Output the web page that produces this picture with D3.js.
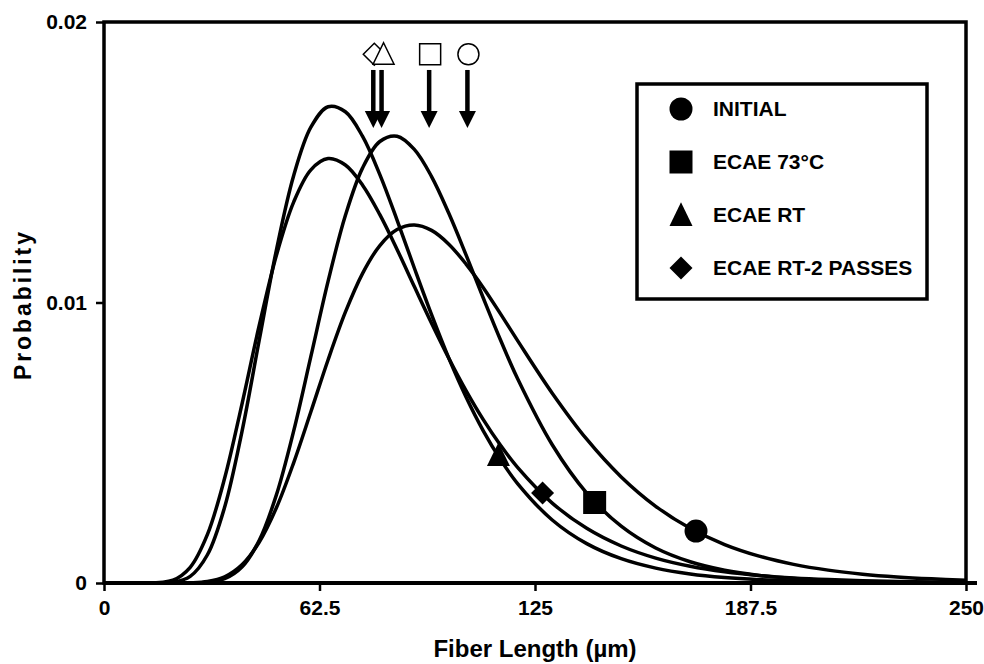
<!DOCTYPE html>
<html>
<head>
<meta charset="utf-8">
<script src="https://cdn.jsdelivr.net/npm/d3@7"></script>
<style>
  body { margin: 0; background: #fff; }
  text { font-family: "Liberation Sans", Arial, sans-serif; font-weight: bold; fill: #000; }
</style>
</head>
<body>
<div class="chart"></div>
<script>
// values (fiber length in µm, probability)
const lengths = [0, 10, 20, 25, 30, 35, 40, 45, 50, 55, 60, 65, 70, 75, 80, 85, 90, 95, 100, 105, 110, 115, 120, 130, 140, 150, 160, 170, 180, 190, 200, 210, 220, 230, 240, 250]
const initial = [0, 0, 0, 0.000007, 0.000053, 0.000222, 0.000648, 0.001452, 0.002681, 0.004285, 0.006105, 0.00796, 0.009654, 0.01104, 0.01203, 0.0126, 0.01276, 0.01257, 0.01208, 0.01137, 0.01053, 0.009596, 0.008633, 0.006768, 0.005126, 0.003782, 0.002735, 0.001949, 0.001372, 0.000959, 0.000665, 0.000459, 0.000316, 0.000217, 0.000149, 0.000102]
const ecae73 = [0, 0, 0, 0, 0.000026, 0.000153, 0.00057, 0.001514, 0.003141, 0.005415, 0.008079, 0.01076, 0.0131, 0.0148, 0.01574, 0.01593, 0.01546, 0.01449, 0.01318, 0.0117, 0.01016, 0.008663, 0.007271, 0.004928, 0.003206, 0.002024, 0.001247, 0.000757, 0.000453, 0.000269, 0.000159, 0.000093, 0.000055, 0.000032, 0.000019, 0.000011]
const ecaeRT = [0, 0, 0.000027, 0.000237, 0.001007, 0.002711, 0.00539, 0.008645, 0.01187, 0.01452, 0.01625, 0.01698, 0.0168, 0.01592, 0.01456, 0.01294, 0.01123, 0.009567, 0.008018, 0.006631, 0.005425, 0.004398, 0.003537, 0.002247, 0.001403, 0.000866, 0.00053, 0.000323, 0.000197, 0.00012, 0.000073, 0.000045, 0.000027, 0.000017, 0.00001, 0.000006]
const ecaeRT2 = [0, 0, 0.000102, 0.000559, 0.001731, 0.003742, 0.006372, 0.009171, 0.01168, 0.01358, 0.01473, 0.01513, 0.0149, 0.01418, 0.01313, 0.01189, 0.01057, 0.009261, 0.008012, 0.00686, 0.005823, 0.004909, 0.004113, 0.002849, 0.001948, 0.001319, 0.000888, 0.000597, 0.0004, 0.000269, 0.00018, 0.000121, 0.000082, 0.000056, 0.000038, 0.000026]

const seriesNames = ['INITIAL', 'ECAE 73°C', 'ECAE RT', 'ECAE RT-2 PASSES']
const seriesShapes = ['circle', 'square', 'triangle', 'diamond']
// one marker on each curve
const markerX = [171.7, 142.3, 114.4, 127.2]
const markerY = [0.00185, 0.00287, 0.00456, 0.00321]
// mean lengths, marked by arrows at the top
const meanX = [105.4, 94.3, 80.5, 78.1]

const xTicks = [0, 62.5, 125, 187.5, 250]
const yTicks = [0, 0.01, 0.02]

const margin = ({top: 22, right: 18, bottom: 81, left: 104})
const width = 984 - margin.left - margin.right
const height = 664 - margin.top - margin.bottom

const svg = d3.select('.chart').append('svg')
    .attr('width', 984)
    .attr('height', 664)
const g = svg.append('g')
    .attr('transform', `translate(${margin.left},${margin.top})`)

const x = d3.scaleLinear().domain([0, 250]).range([0, width])
const y = d3.scaleLinear().domain([0, 0.02]).range([height, 0])

// shape paths, r = half size
function shapePath(shape, r) {
    if (shape === 'circle') return d3.symbol(d3.symbolCircle, Math.PI * r * r)()
    if (shape === 'square') return `M${-r},${-r}H${r}V${r}H${-r}Z`
    if (shape === 'triangle') return `M0,${-r * 1.1}L${r},${r * 0.95}L${-r},${r * 0.95}Z`
    return `M0,${-r}L${r},0L0,${r}L${-r},0Z`
}

// frame
g.append('rect')
    .attr('width', width).attr('height', height)
    .attr('fill', 'none').attr('stroke', '#000').attr('stroke-width', 3.5)

// axes
const xAxis = d3.axisBottom(x).tickValues(xTicks).tickSize(8).tickPadding(9)
    .tickFormat(d => d)
const yAxis = d3.axisLeft(y).tickValues(yTicks).tickSize(8).tickPadding(9)
    .tickFormat(d => d)

g.append('g').attr('class', 'x-axis')
    .attr('transform', `translate(0,${height})`)
    .call(xAxis)
g.append('g').attr('class', 'y-axis')
    .call(yAxis)

g.selectAll('.domain').remove()
g.selectAll('.tick line').attr('stroke', '#000').attr('stroke-width', 2.5)
g.selectAll('.tick text').style('font-size', '21px')

// x axis line runs a little past the frame
g.append('line')
    .attr('x1', 0).attr('x2', width + 11)
    .attr('y1', height).attr('y2', height)
    .attr('stroke', '#000').attr('stroke-width', 4)

// curves
const allSeries = [initial, ecae73, ecaeRT, ecaeRT2]
const line = d3.line()
    .x((d, i) => x(lengths[i]))
    .y(d => y(d))
    .curve(d3.curveCatmullRom.alpha(0.5))

g.selectAll('.curve').data(allSeries).join('path')
    .attr('class', 'curve')
    .attr('d', line)
    .attr('fill', 'none')
    .attr('stroke', '#000')
    .attr('stroke-width', 3.5)

// markers on curves
g.selectAll('.marker').data(seriesShapes).join('path')
    .attr('class', 'marker')
    .attr('transform', (d, i) => `translate(${x(markerX[i])},${y(markerY[i])})`)
    .attr('d', d => shapePath(d, 11.5))
    .attr('fill', '#000')

// mean arrows
const arrowTop = 0.01829, arrowTip = 0.01622, symbolY = 0.01885
const arrows = g.selectAll('.arrow').data(meanX).join('g')
    .attr('class', 'arrow')
    .attr('transform', d => `translate(${x(d)},0)`)
arrows.append('line')
    .attr('y1', y(arrowTop)).attr('y2', y(arrowTip) - 14)
    .attr('stroke', '#000').attr('stroke-width', 4.5)
arrows.append('path')
    .attr('d', `M-8.5,${y(arrowTip) - 17}L8.5,${y(arrowTip) - 17}L0,${y(arrowTip)}Z`)
    .attr('fill', '#000')

// hollow symbols above the arrows (diamond drawn first, triangle on top)
const order = [3, 2, 1, 0]
g.selectAll('.hollow').data(order).join('path')
    .attr('class', 'hollow')
    .attr('transform', i => `translate(${x(meanX[i]) + (i === 2 ? 2 : 1)},${y(symbolY)})`)
    .attr('d', i => shapePath(seriesShapes[i], seriesShapes[i] === 'diamond' ? 11 : 10.5))
    .attr('fill', '#fff')
    .attr('stroke', '#000')
    .attr('stroke-width', 1.5)

// legend
const legend = svg.append('g').attr('transform', 'translate(637,84)')
legend.append('rect')
    .attr('width', 290).attr('height', 215)
    .attr('fill', '#fff').attr('stroke', '#000').attr('stroke-width', 3.5)
const items = legend.selectAll('.item').data(seriesNames).join('g')
    .attr('class', 'item')
    .attr('transform', (d, i) => `translate(0,${25 + i * 53})`)
items.append('path')
    .attr('transform', 'translate(44,0)')
    .attr('d', (d, i) => shapePath(seriesShapes[i], 11.5))
    .attr('fill', '#000')
items.append('text')
    .attr('x', 76).attr('y', 7)
    .style('font-size', '21px')
    .text(d => d)

// axis titles
svg.append('text')
    .attr('x', margin.left + width / 2).attr('y', 657)
    .attr('text-anchor', 'middle')
    .style('font-size', '24px')
    .text('Fiber Length (µm)')
svg.append('text')
    .attr('transform', 'translate(31,306) rotate(-90)')
    .attr('text-anchor', 'middle')
    .style('font-size', '23px')
    .attr('textLength', 148)
    .attr('lengthAdjust', 'spacing')
    .text('Probability')
</script>
</body>
</html>
